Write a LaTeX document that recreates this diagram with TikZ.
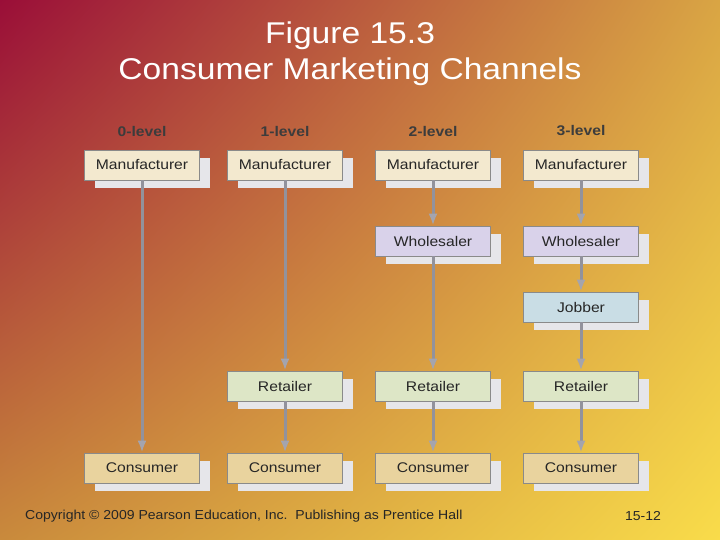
\documentclass[tikz,border=0pt]{standalone}
\usepackage{fontspec}
\setmainfont{Liberation Sans}[FakeStretch=1.12]
\newfontfamily\footfont{Liberation Sans}[FakeStretch=1.08]
\usetikzlibrary{arrows.meta,shadows,shadings}

\definecolor{bgred}{HTML}{9A0E38}
\definecolor{bgtopright}{HTML}{D9A544}
\definecolor{bgbotleft}{HTML}{C98A3C}
\definecolor{bgyellow}{HTML}{F9DC4A}
\definecolor{boxline}{HTML}{8A8A8A}
\definecolor{boxtext}{HTML}{262626}
\definecolor{shadowgray}{HTML}{E6E6EA}
\definecolor{flowgray}{HTML}{92929C}
\definecolor{tipgray}{HTML}{A4A4AE}
\definecolor{levelgray}{HTML}{3C3C3C}
\definecolor{manufill}{HTML}{F3E9CF}
\definecolor{wholefill}{HTML}{D9D2EA}
\definecolor{jobfill}{HTML}{C9DDE5}
\definecolor{retfill}{HTML}{DDE6C6}
\definecolor{consfill}{HTML}{E9D39E}

\begin{document}
\begin{tikzpicture}[
    x=1pt, y=-1pt,
    chan/.style={rectangle, draw=boxline, line width=0.8pt, minimum width=115pt, minimum height=30pt,
        inner sep=0pt, font=\fontsize{14}{16}\selectfont, text=boxtext,
        general shadow={fill=shadowgray, shadow xshift=10pt, shadow yshift=-8pt}},
    level/.style={font=\bfseries\fontsize{14}{16}\selectfont, text=levelgray},
    flow/.style={draw=flowgray, line width=3pt, -{Latex[length=12pt, width=9pt, color=tipgray]}},
]
    % background
    \shade[upper left=bgred, upper right=bgtopright, lower left=bgbotleft, lower right=bgyellow]
        (0,0) rectangle (720,540);
    \useasboundingbox (0,0) rectangle (720,540);

    % title
    \node[text=white, font=\fontsize{30}{32}\selectfont] (title1) at (350,36) {Figure 15.3};
    \node[text=white, font=\fontsize{30}{32}\selectfont] (title2) at (350,72) {Consumer Marketing Channels};

    % levels
    \node[level] (l0) at (142,131) {0-level};
    \node[level] (l1) at (285,131) {1-level};
    \node[level] (l2) at (433,131) {2-level};
    \node[level] (l3) at (581,131) {3-level};

    % channel members
    \node[chan, fill=manufill] (m0) at (142,165) {Manufacturer};
    \node[chan, fill=manufill] (m1) at (285,165) {Manufacturer};
    \node[chan, fill=manufill] (m2) at (433,165) {Manufacturer};
    \node[chan, fill=manufill] (m3) at (581,165) {Manufacturer};

    \node[chan, fill=wholefill] (w2) at (433,241) {Wholesaler};
    \node[chan, fill=wholefill] (w3) at (581,241) {Wholesaler};

    \node[chan, fill=jobfill] (j3) at (581,307) {Jobber};

    \node[chan, fill=retfill] (r1) at (285,386) {Retailer};
    \node[chan, fill=retfill] (r2) at (433,386) {Retailer};
    \node[chan, fill=retfill] (r3) at (581,386) {Retailer};

    \node[chan, fill=consfill] (c0) at (142,468) {Consumer};
    \node[chan, fill=consfill] (c1) at (285,468) {Consumer};
    \node[chan, fill=consfill] (c2) at (433,468) {Consumer};
    \node[chan, fill=consfill] (c3) at (581,468) {Consumer};

    % flows
    \draw[flow] (m0) -- (c0);
    \draw[flow] (m1) -- (r1);
    \draw[flow] (r1) -- (c1);
    \draw[flow] (m2) -- (w2);
    \draw[flow] (w2) -- (r2);
    \draw[flow] (r2) -- (c2);
    \draw[flow] (m3) -- (w3);
    \draw[flow] (w3) -- (j3);
    \draw[flow] (j3) -- (r3);
    \draw[flow] (r3) -- (c3);

    % footer
    \node[anchor=west, inner sep=0pt, font=\footfont\fontsize{13}{15}\selectfont, text=boxtext] (copy) at (25,516)
        {Copyright \textcopyright{} 2009 Pearson Education, Inc.\ \ Publishing as Prentice Hall};
    \node[font=\footfont\fontsize{13}{15}\selectfont, text=boxtext] (page) at (643,516) {15-12};
\end{tikzpicture}
\end{document}
